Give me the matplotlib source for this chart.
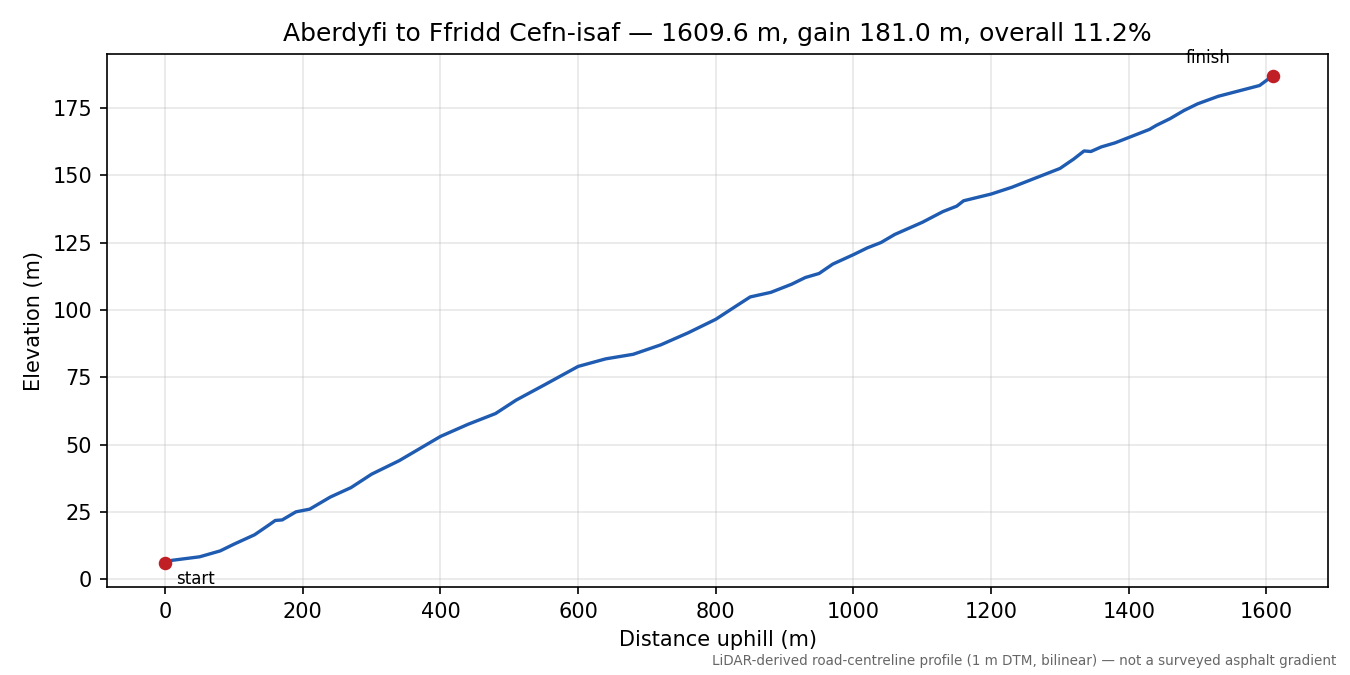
import matplotlib
matplotlib.use("Agg")
import matplotlib.pyplot as plt

dist = [0, 10, 50, 80, 100, 130, 150, 160, 170, 190, 210, 240, 270, 300, 340, 380, 400, 440, 480, 510,
        550, 600, 640, 680, 720, 760, 800, 830, 850, 880, 910, 930, 950, 970, 1000, 1020, 1040, 1060,
        1100, 1130, 1150, 1160, 1200, 1230, 1260, 1300, 1320, 1335, 1345, 1360, 1380, 1400, 1430, 1440,
        1460, 1480, 1500, 1530, 1560, 1590, 1609.6]
elev = [6.0, 7.0, 8.3, 10.5, 13.0, 16.5, 20.0, 21.8, 22.0, 25.0, 26.0, 30.5, 34.0, 39.0, 44.0, 50.0, 53.0,
        57.5, 61.5, 66.5, 72.0, 79.0, 81.8, 83.5, 87.0, 91.5, 96.5, 101.5, 104.8, 106.5, 109.5, 112.0,
        113.5, 117.0, 120.5, 123.0, 125.0, 128.0, 132.5, 136.5, 138.5, 140.5, 143.0, 145.5, 148.5, 152.5,
        156.0, 159.0, 158.8, 160.5, 162.0, 164.0, 167.0, 168.5, 171.0, 174.0, 176.5, 179.3, 181.3, 183.3, 187.0]

fig = plt.figure(figsize=(9, 4.5), dpi=150)
ax = fig.add_axes([0.079, 0.13, 0.905, 0.79])
ax.plot(dist, elev, color="#1f5bb0", lw=1.6)
ax.scatter([dist[0], dist[-1]], [elev[0], elev[-1]], color="#c01f26", s=30, zorder=3)
ax.annotate("start", (dist[0], elev[0]), xytext=(5, -10), textcoords="offset points", fontsize=8)
ax.annotate("finish", (dist[-1], elev[-1]), xytext=(-42, 6), textcoords="offset points", fontsize=8)
ax.set_xlim(-85, 1690)
ax.set_ylim(-3, 195)
ax.set_yticks([0, 25, 50, 75, 100, 125, 150, 175])
ax.grid(True, alpha=0.3)
ax.set_xlabel("Distance uphill (m)")
ax.set_ylabel("Elevation (m)")
ax.set_title("Aberdyfi to Ffridd Cefn-isaf — 1609.6 m, gain 181.0 m, overall 11.2%")
fig.text(0.99, 0.01, "LiDAR-derived road-centreline profile (1 m DTM, bilinear) — not a surveyed asphalt gradient",
         ha="right", va="bottom", fontsize=6.5, color="#666666")
fig.savefig("out.png", dpi=150)
